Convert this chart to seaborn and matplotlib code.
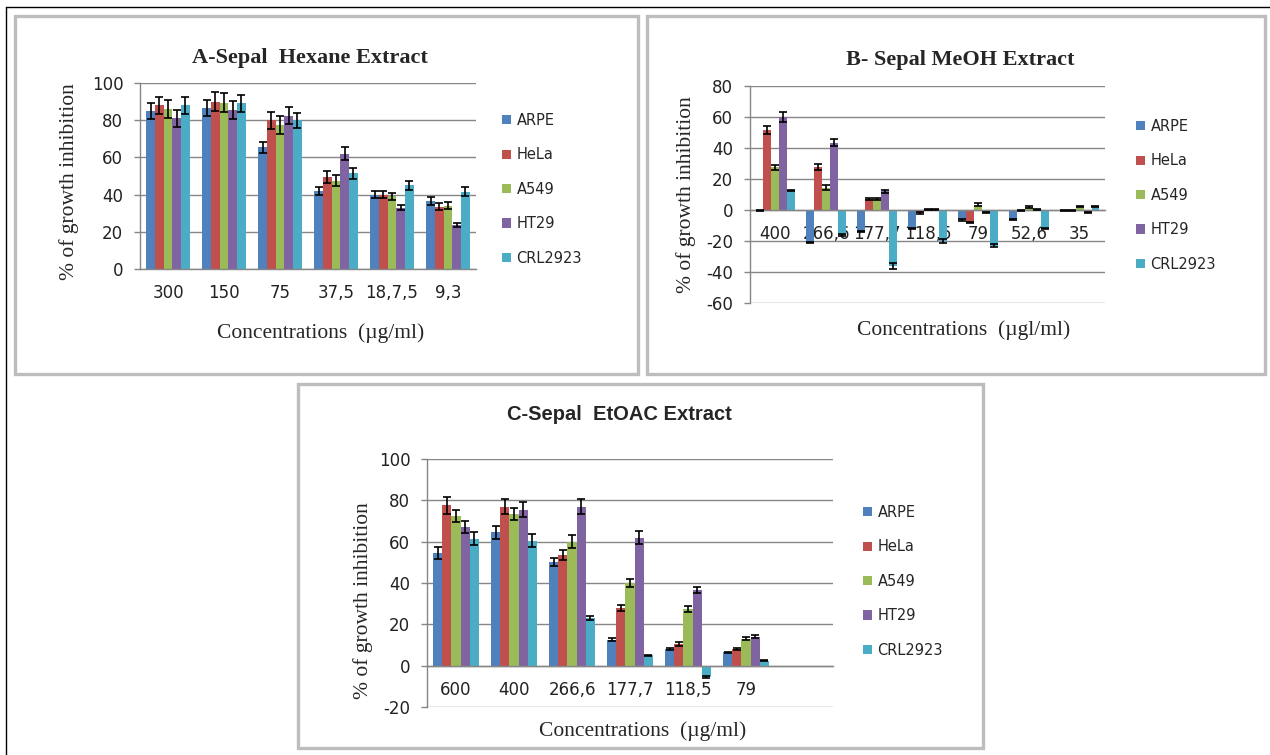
import matplotlib
matplotlib.use('Agg')
import matplotlib.pyplot as plt
from matplotlib.patches import Rectangle, Patch
from matplotlib.lines import Line2D
import seaborn as sns
import pandas as pd
import numpy as np

# cell lines and Excel-2007 style colours
cells = ['ARPE', 'HeLa', 'A549', 'HT29', 'CRL2923']
colors = ['#4F81BD', '#C0504D', '#9BBB59', '#8064A2', '#4BACC6']

# A - Sepal Hexane Extract
conc_a = ['300', '150', '75', '37,5', '18,7,5', '9,3']
a_arpe = [85, 86.5, 65.5, 42, 40, 36.5]
a_hela = [88, 90, 80, 49.5, 40, 33.5]
a_a549 = [86, 89.5, 77.5, 47.5, 39, 34]
a_ht29 = [81, 85.5, 82.5, 62, 33, 23.5]
a_crl = [88, 89, 80, 51.5, 45, 41.5]
a_err_arpe = [4.5, 4.5, 3, 2, 2, 2]
a_err_hela = [4.5, 5, 4.5, 3, 2, 2]
a_err_a549 = [5, 5, 5, 3, 2, 2]
a_err_ht29 = [4.5, 5, 4.5, 3.5, 1.5, 1]
a_err_crl = [4.5, 4.5, 4, 3, 2.5, 2.5]

# B - Sepal MeOH Extract
conc_b = ['400', '266,6', '177,7', '118,5', '79', '52,6', '35']
b_arpe = [-0.5, -21, -14, -12, -6.5, -6, -0.5]
b_hela = [51.5, 28, 7, -2, -8, -0.5, -0.5]
b_a549 = [27.5, 14.5, 7, 0.5, 3.5, 2, 2]
b_ht29 = [60, 43.5, 12, 0.2, -1.5, 0.2, -1.5]
b_crl = [12.5, -16, -36, -20, -23, -12, 2]
b_err_arpe = [0.3, 0.5, 0.5, 0.5, 0.5, 0.3, 0.3]
b_err_hela = [2.5, 2, 0.5, 0.5, 0.5, 0.3, 0.3]
b_err_a549 = [1.5, 1.5, 0.5, 0.3, 1, 0.5, 0.3]
b_err_ht29 = [3.5, 2.5, 1, 0.3, 0.5, 0.3, 0.5]
b_err_crl = [0.5, 0.5, 2, 1, 1, 0.5, 0.3]

# C - Sepal EtOAC Extract (last category slot is empty)
conc_c = ['600', '400', '266,6', '177,7', '118,5', '79', ' ']
c_arpe = [54.5, 64.5, 50, 12.5, 8, 6.5]
c_hela = [77.5, 77, 53.5, 28, 10.5, 8]
c_a549 = [72.5, 73.5, 60, 40, 27.5, 13]
c_ht29 = [67, 75.5, 77, 62, 36.5, 14]
c_crl = [61.5, 60.5, 23, 5, -5.5, 2.5]
c_err_arpe = [3, 3, 2, 0.7, 0.5, 0.3]
c_err_hela = [4, 3.5, 2.5, 1.5, 0.8, 0.4]
c_err_a549 = [3, 3, 3, 2, 1.5, 0.7]
c_err_ht29 = [3, 3.5, 3.5, 3, 1.5, 0.8]
c_err_crl = [3, 3, 1, 0.4, 0.5, 0.3]

sns.set_style('white')
plt.rcParams['font.family'] = ['DejaVu Sans']
plt.rcParams['axes.unicode_minus'] = False

W, H = 1270, 755
GRAY = '#868686'
SERIF = 'Liberation Serif'


def fx(x):
    return x / W


def fy(y):
    return 1 - y / H


def long_df(conc, series, errs):
    rows = []
    for cell, vals, ee in zip(cells, series, errs):
        for c, v, e in zip(conc, vals, ee):
            rows.append({'conc': c, 'cell': cell, 'value': v, 'err': e})
    return pd.DataFrame(rows)


def panel(fig, box, conc, series, errs, ylim, yticks, leg_xy):
    x0, x1, ytop, ybot = box
    ax = fig.add_axes([fx(x0), fy(ybot), fx(x1) - fx(x0), fy(ytop) - fy(ybot)])
    df = long_df(conc[:len(series[0])], series, errs)
    sns.barplot(data=df, x='conc', y='value', hue='cell', order=conc,
                hue_order=cells, palette=colors, saturation=1, errorbar=None,
                width=0.78, linewidth=0, legend=False, ax=ax)
    # error bars on the bar centres seaborn placed
    for cont, vals, ee in zip(ax.containers, series, errs):
        xs = [b.get_x() + b.get_width() / 2 for b in cont]
        ax.errorbar(xs, vals, yerr=ee, fmt='none', ecolor='black',
                    elinewidth=1.2, capsize=2.6, capthick=1.2, zorder=5)
    n = len(conc)
    ax.set_xlim(-0.5, n - 0.5)
    ax.set_ylim(*ylim)
    ax.set_yticks(yticks)
    ax.set_xlabel('')
    ax.set_ylabel('')
    ax.yaxis.grid(True, color=GRAY, linewidth=1.0)
    ax.set_axisbelow(True)
    for s in ['top', 'right']:
        ax.spines[s].set_visible(False)
    for s in ['left', 'bottom']:
        ax.spines[s].set_color(GRAY)
        ax.spines[s].set_linewidth(1.0)
    ax.spines['bottom'].set_position(('data', 0))
    ax.set_xticks(np.arange(n + 1) - 0.5, minor=True)
    ax.tick_params(axis='x', which='major', length=0, pad=11, labelsize=12,
                   labelcolor='#222222')
    ax.tick_params(axis='x', which='minor', length=4, color=GRAY, width=1.0,
                   direction='out')
    ax.tick_params(axis='y', length=4, color=GRAY, width=1.0, direction='out',
                   pad=8, labelsize=12, labelcolor='#222222')
    ax.tick_params(left=True)
    handles = [Patch(facecolor=c, edgecolor='none', label=l)
               for c, l in zip(colors, cells)]
    ax.legend(handles=handles, loc='upper left', frameon=False,
              bbox_to_anchor=(fx(leg_xy[0]), fy(leg_xy[1])),
              bbox_transform=fig.transFigure, borderpad=0, borderaxespad=0,
              handlelength=0.6, handleheight=0.6, handletextpad=0.4,
              labelspacing=1.33, prop={'size': 10.5})
    return ax


fig = plt.figure(figsize=(W / 100, H / 100), dpi=100)

# frames
fig.add_artist(Line2D([fx(6), fx(6)], [fy(7), fy(760)], color='black', lw=1))
fig.add_artist(Line2D([fx(6), fx(1275)], [fy(7), fy(7)], color='black', lw=1))
for (l, t, r, b) in [(15, 16, 638, 374), (647, 16, 1265, 374), (298, 384, 983, 748)]:
    fig.add_artist(Rectangle((fx(l), fy(b)), fx(r) - fx(l), fy(t) - fy(b),
                             transform=fig.transFigure, fill=False,
                             edgecolor='#BDBDBD', linewidth=2.4))

panel(fig, (140, 476, 83, 269), conc_a,
      [a_arpe, a_hela, a_a549, a_ht29, a_crl],
      [a_err_arpe, a_err_hela, a_err_a549, a_err_ht29, a_err_crl],
      (0, 100), range(0, 101, 20), (502, 113))
panel(fig, (750, 1105, 86, 303), conc_b,
      [b_arpe, b_hela, b_a549, b_ht29, b_crl],
      [b_err_arpe, b_err_hela, b_err_a549, b_err_ht29, b_err_crl],
      (-60, 80), range(-60, 81, 20), (1136, 119))
panel(fig, (427, 833, 459, 707), conc_c,
      [c_arpe, c_hela, c_a549, c_ht29, c_crl],
      [c_err_arpe, c_err_hela, c_err_a549, c_err_ht29, c_err_crl],
      (-20, 100), range(-20, 101, 20), (863, 505))

# titles and axis labels
fig.text(fx(310), fy(58), 'A-Sepal  Hexane Extract', family=SERIF,
         weight='bold', size=16, ha='center', va='center')
fig.text(fx(960), fy(60), 'B- Sepal MeOH Extract', family=SERIF,
         weight='bold', size=16, ha='center', va='center')
fig.text(fx(619), fy(415), 'C-Sepal  EtOAC Extract', family='Liberation Sans',
         weight='bold', size=14.5, ha='center', va='center')

fig.text(fx(321), fy(333), 'Concentrations  (µg/ml)', family=SERIF,
         size=15.5, ha='center', va='center')
fig.text(fx(964), fy(330), 'Concentrations  (µgl/ml)', family=SERIF,
         size=15.5, ha='center', va='center')
fig.text(fx(643), fy(731), 'Concentrations  (µg/ml)', family=SERIF,
         size=15.5, ha='center', va='center')

fig.text(fx(69), fy(182), '% of growth inhibition', family=SERIF, size=15.5,
         rotation=90, ha='center', va='center')
fig.text(fx(686), fy(195), '% of growth inhibition', family=SERIF, size=15.5,
         rotation=90, ha='center', va='center')
fig.text(fx(363), fy(601), '% of growth inhibition', family=SERIF, size=15.5,
         rotation=90, ha='center', va='center')

fig.savefig('out.png', dpi=100)
